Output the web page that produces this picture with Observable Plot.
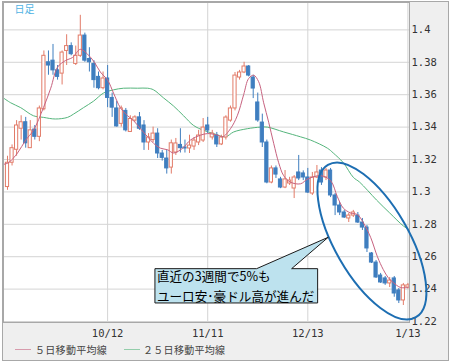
<!DOCTYPE html>
<html><head><meta charset="utf-8">
<script src="https://cdn.jsdelivr.net/npm/d3@7"></script>
<script src="https://cdn.jsdelivr.net/npm/@observablehq/plot@0.6"></script>
<style>
html,body{margin:0;padding:0;background:#fff;}
#box{position:absolute;left:2px;top:1px;width:447px;height:360px;box-sizing:border-box;border:1px solid #a8a8a8;background:#efefef;}
#chart{position:absolute;left:0;top:0;}
#legend{position:absolute;left:0;top:339px;height:16px;width:445px;font-family:"Noto Sans CJK JP";font-size:10px;color:#444;}
.item{position:absolute;top:0;height:16px;display:flex;align-items:center;white-space:nowrap;letter-spacing:0.3px;}
.sw{position:absolute;top:8px;width:16px;height:1px;}
</style></head>
<body><div id="box"><div id="chart"></div><div id="legend"></div></div>
<script>
// ---- data (EUR/AUD daily candles) ----
const opens = [1.303,1.318,1.326,1.339,1.343,1.327,1.3385,1.334,1.351,1.380,1.381,1.375,1.373,1.387,1.390,1.379,1.384,1.3965,1.382,1.379,
1.371,1.364,1.370,1.358,1.3515,1.342,1.350,1.337,1.344,1.346,1.341,1.3305,1.332,1.336,1.3237,1.3206,1.315,1.3243,1.329,1.3274,
1.3268,1.328,1.3305,1.3317,1.341,1.3336,1.3348,1.3293,1.3336,1.344,1.3515,1.3706,1.3737,1.3774,1.3706,1.3552,1.3428,1.3305,1.3058,1.3145,
1.3077,1.3027,1.3052,1.3021,1.312,1.3114,1.3089,1.299,1.3089,1.3132,1.3089,1.3132,1.2978,1.2916,1.2873,1.2836,1.2854,1.2854,1.2811,1.278,
1.262,1.2564,1.2484,1.2466,1.2435,1.2466,1.2392,1.233,1.241];
const highs = [1.322,1.329,1.344,1.347,1.346,1.344,1.341,1.353,1.387,1.387,1.391,1.378,1.387,1.397,1.392,1.390,1.409,1.398,1.389,1.381,
1.374,1.374,1.378,1.361,1.356,1.353,1.3515,1.347,1.347,1.349,1.344,1.336,1.340,1.339,1.3256,1.3256,1.332,1.333,1.339,1.332,
1.335,1.3336,1.338,1.3453,1.346,1.338,1.3367,1.335,1.347,1.353,1.3737,1.375,1.380,1.378,1.372,1.361,1.348,1.332,1.316,1.316,
1.309,1.3132,1.309,1.3101,1.3225,1.313,1.3145,1.312,1.3163,1.315,1.3145,1.3145,1.299,1.2935,1.2886,1.2867,1.2886,1.2873,1.2836,1.2793,
1.2626,1.2577,1.2497,1.2478,1.2472,1.2478,1.2404,1.2435,1.2435];
const lows = [1.301,1.316,1.322,1.332,1.327,1.327,1.332,1.331,1.350,1.372,1.372,1.369,1.366,1.378,1.384,1.378,1.383,1.380,1.374,1.364,
1.363,1.363,1.352,1.346,1.340,1.340,1.337,1.337,1.343,1.338,1.3256,1.3256,1.3305,1.3206,1.319,1.311,1.311,1.3225,1.324,1.324,
1.3237,1.3256,1.3286,1.3305,1.336,1.332,1.3274,1.3286,1.332,1.343,1.350,1.369,1.373,1.371,1.3576,1.343,1.3274,1.305,1.305,1.3083,
1.302,1.302,1.304,1.2959,1.307,1.307,1.299,1.2978,1.3083,1.304,1.307,1.2965,1.2854,1.2854,1.2836,1.2811,1.2842,1.2805,1.2762,1.2626,
1.2558,1.2466,1.2435,1.2423,1.241,1.235,1.2311,1.2299,1.240];
const closes = [1.318,1.327,1.341,1.343,1.330,1.338,1.334,1.3515,1.384,1.378,1.375,1.371,1.386,1.390,1.385,1.384,1.3965,1.381,1.380,1.369,
1.364,1.370,1.358,1.352,1.3404,1.3515,1.338,1.345,1.346,1.339,1.3305,1.3336,1.336,1.3237,1.321,1.3145,1.330,1.3299,1.327,1.3268,
1.3286,1.3317,1.3348,1.3397,1.3379,1.336,1.3293,1.3336,1.3459,1.3515,1.3718,1.3737,1.3774,1.3718,1.3638,1.3441,1.3305,1.3058,1.3145,1.3107,
1.3027,1.3077,1.307,1.3089,1.3083,1.3089,1.2996,1.3089,1.312,1.3058,1.3132,1.2978,1.2916,1.2873,1.2842,1.2854,1.2873,1.2811,1.278,1.2651,
1.2564,1.2472,1.2441,1.2435,1.2453,1.2373,1.233,1.2423,1.2423];
// 5-day moving average, read as [day index, value]
const ma5 = [[-0.9,1.317],[0.2,1.318],[2.2,1.324],[4,1.332],[5.7,1.338],[7.9,1.352],[9.5,1.364],[11,1.377],[12.7,1.381],[14.3,1.383],
[16,1.388],[17.6,1.385],[19.1,1.380],[20.4,1.374],[22,1.369],[23.3,1.361],[24.8,1.352],[26.4,1.347],[27.7,1.344],[29.2,1.339],
[30.8,1.334],[32.1,1.330],[33.6,1.327],[35.2,1.326],[36.5,1.324],[38.5,1.327],[40.2,1.332],[42.4,1.335],[44,1.336],[46.2,1.335],
[47.3,1.334],[49,1.339],[50.5,1.347],[51.9,1.360],[53,1.370],[54.1,1.372],[55.2,1.368],[56.3,1.355],[57.4,1.343],[58.5,1.330],
[59.6,1.318],[60.7,1.310],[62.2,1.306],[64.4,1.305],[66,1.308],[68.8,1.310],[71,1.307],[72.5,1.297],[73.8,1.290],[75.4,1.287],
[76.9,1.286],[78.2,1.281],[79.8,1.272],[81.3,1.260],[82.6,1.252],[83.7,1.247],[84.8,1.244],[86.4,1.241],[88,1.241]];
// 25-day moving average, read as [day index, value]
const ma25 = [[-0.9,1.358],[0.7,1.355],[2.9,1.352],[5.7,1.347],[7.9,1.346],[10.5,1.345],[13.2,1.346],[14.5,1.348],[16.7,1.352],[18.9,1.356],
[21.1,1.361],[23.3,1.363],[25.5,1.364],[28.6,1.364],[30.8,1.364],[32.1,1.363],[34.3,1.358],[36.5,1.353],[38.7,1.347],[40.9,1.341],
[43.1,1.338],[45.3,1.336],[47.9,1.334],[49.7,1.337],[52.7,1.339],[55.6,1.340],[57.1,1.340],[60.7,1.337],[64.4,1.334],[66.6,1.332],
[70.3,1.327],[71.6,1.324],[73.8,1.318],[76,1.309],[77.4,1.306],[81.1,1.295],[84,1.287],[87,1.279],[88.1,1.277]];
const yTicks = [1.22,1.24,1.26,1.28,1.30,1.32,1.34,1.36,1.38,1.40];
const xTickIdx = [22,44,66,88];
const xTickLabels = ["10/12","11/11","12/13","1/13"];
const legendLabels = ["５日移動平均線","２５日移動平均線"];
const periodLabel = "日足";
const noteLines = ["直近の3週間で5%も","ユーロ安･豪ドル高が進んだ"];

const RED="#e27b68", BLUE="#3f7ebf", PINK="#c7627f", GREEN="#55b57c";
const candles = opens.map((o,i)=>({i, o, h:highs[i], l:lows[i], c:closes[i], up: closes[i]>=o}));

const chart = Plot.plot({
  width:445, height:340, marginLeft:0, marginTop:0, marginRight:39, marginBottom:20,
  x:{type:"linear", domain:[-0.88,88.35], axis:null, label:null},
  y:{domain:[1.2194,1.4169], axis:null, label:null},
  style:{fontFamily:"'DejaVu Sans Mono', monospace", fontSize:"10.5px", color:"#333", background:"transparent", overflow:"visible"},
  marks:[
    Plot.frame({fill:"white", stroke:null}),
    Plot.gridY(yTicks,{stroke:"#d4d4d4", strokeOpacity:1}),
    Plot.gridX(xTickIdx,{stroke:"#d4d4d4", strokeOpacity:1}),
    Plot.axisY(yTicks,{anchor:"right", tickSize:0, tickPadding:2, label:null, tickFormat:d=>String(+d.toFixed(2))}),
    Plot.axisX(xTickIdx,{anchor:"bottom", tickSize:0, tickPadding:7, label:null, tickFormat:d=>xTickLabels[xTickIdx.indexOf(d)]}),
    Plot.line(ma25,{x:d=>d[0], y:d=>d[1], stroke:GREEN, strokeWidth:1, curve:"catmull-rom", clip:"frame"}),
    Plot.ruleX(candles,{x:"i", y1:"l", y2:"h", stroke:d=>d.up?RED:BLUE, strokeWidth:1, clip:"frame"}),
    Plot.rect(candles,{x1:d=>d.i-0.35, x2:d=>d.i+0.35, y1:"o", y2:"c", fill:d=>d.up?"white":BLUE, stroke:d=>d.up?RED:BLUE, strokeWidth:1, clip:"frame"}),
    Plot.line(ma5,{x:d=>d[0], y:d=>d[1], stroke:PINK, strokeWidth:1, curve:"catmull-rom", clip:"frame"}),
    Plot.frame({stroke:"#a8a8a8"}),
    Plot.text([periodLabel],{frameAnchor:"top-left", dx:11, dy:3, textAnchor:"start", lineAnchor:"top", fill:"#4fb3e3", fontSize:10, fontFamily:"Noto Sans CJK JP"})
  ]
});
document.getElementById("chart").appendChild(chart);

// annotation: ellipse and callout, anchored to the scales
const sx = chart.scale("x"), sy = chart.scale("y");
const svg = d3.select(chart);
const ex = sx.apply(80.2), ey = sy.apply(1.2694);
svg.append("ellipse").attr("cx",0).attr("cy",0).attr("rx",88).attr("ry",37)
  .attr("transform",`translate(${ex},${ey}) rotate(60)`)
  .attr("fill","none").attr("stroke","#1d6eb2").attr("stroke-width",2);
const tx = sx.apply(70.6), ty = sy.apply(1.2717);
const bx0 = tx-173.3, bx1 = tx-10.6, by0 = ty+31.4, by1 = ty+65.7;
svg.append("path")
  .attr("d",`M${bx0},${by0}H${tx-71.6}L${tx},${ty}L${tx-36.6},${by0}H${bx1}V${by1}H${bx0}Z`)
  .attr("fill","#bde2ee").attr("stroke","#1a1a1a").attr("stroke-width",1);
noteLines.forEach((t,k)=>{
  svg.append("text").attr("x",bx0+2).attr("y",by0+8+k*20).attr("dy","0.35em")
    .attr("text-anchor","start")
    .attr("font-family","Noto Sans CJK JP").attr("font-size","12.6px").attr("fill","#000").text(t);
});

// legend
const lg = document.getElementById("legend");
[[12,32,PINK],[121,140,GREEN]].forEach(([lx,tx2,col],k)=>{
  const s=document.createElement("div"); s.className="sw"; s.style.left=lx+"px"; s.style.background=col; s.style.opacity=0.6; lg.appendChild(s);
  const t=document.createElement("div"); t.className="item"; t.style.left=tx2+"px"; t.textContent=legendLabels[k]; lg.appendChild(t);
});
</script>
</body></html>
